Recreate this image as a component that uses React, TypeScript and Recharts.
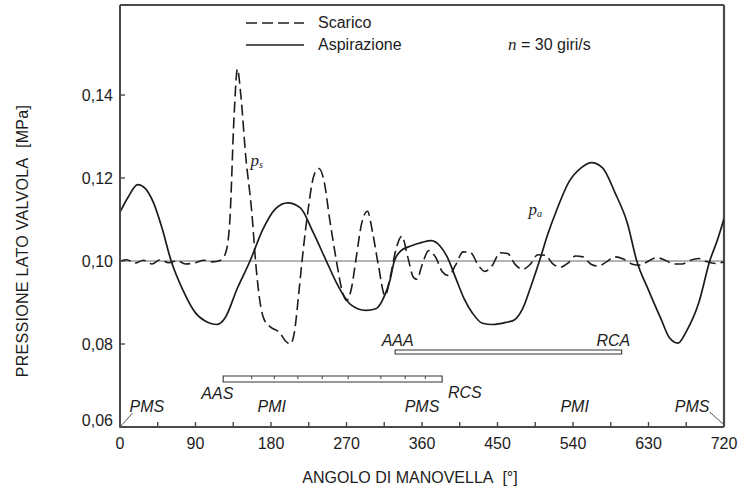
import React from 'react';
import {
  LineChart,
  Line,
  XAxis,
  YAxis,
  ReferenceLine,
  ReferenceArea,
  ReferenceDot,
  Legend,
} from 'recharts';

// ---------- data ----------
const angleTicks = [0, 45, 90, 135, 180, 225, 270, 315, 360, 405, 450, 495, 540, 585, 630, 675, 720];
const pressureTicks = [0.06, 0.08, 0.1, 0.12, 0.14];
const legendOrder = ['Scarico', 'Aspirazione'];

// Aspirazione (intake, solid)
const aspirazioneAngolo = [
  0, 10, 21, 30, 40, 50, 61, 75, 90, 105, 115, 125, 140, 155, 170, 185, 200, 215, 230, 246,
  260, 275, 293, 305, 315, 322, 327, 335, 345, 360, 371, 382, 390, 400, 410, 420, 432, 444,
  460, 470, 480, 490, 500, 510, 520, 535, 550, 562, 575, 590, 605, 616, 630, 645, 655, 665,
  675, 690, 703, 712, 720,
];
const aspirazionePressione = [
  0.1118, 0.1155, 0.1184, 0.1175, 0.114, 0.108, 0.1, 0.093, 0.0875, 0.0852, 0.0847, 0.0862,
  0.0935, 0.1, 0.1075, 0.1125, 0.114, 0.1128, 0.107, 0.1, 0.094, 0.0895, 0.0881, 0.0885,
  0.0915, 0.0955, 0.1, 0.1025, 0.1035, 0.1045, 0.1049, 0.1035, 0.101, 0.096, 0.091, 0.0875,
  0.085, 0.0847, 0.0852, 0.0858, 0.0885, 0.094, 0.1, 0.1065, 0.112, 0.119, 0.1225, 0.1237,
  0.1225, 0.1165, 0.109, 0.1, 0.093, 0.086, 0.0815, 0.0802, 0.083, 0.09, 0.1, 0.105, 0.1102,
];

// Scarico (exhaust, dashed)
const scaricoAngolo = [
  0, 8, 18, 28, 38, 48, 58, 68, 78, 90, 100, 110, 120, 126, 131, 136, 140, 144, 150, 157,
  162, 167, 172, 180, 190, 197, 203, 208, 213, 217, 224, 231, 237, 243, 250, 258, 264, 270,
  276, 281, 288, 295, 301, 308, 316, 322, 328, 336, 343, 350, 354, 360, 368, 376, 384, 392,
  400, 409, 418, 427, 435, 444, 453, 462, 471, 480, 489, 498, 507, 516, 525, 534, 543, 552,
  561, 570, 580, 590, 600, 610, 620, 630, 640, 650, 660, 670, 680, 690, 700, 710, 720,
];
const scaricoPressione = [
  0.1, 0.1003, 0.0995, 0.1002, 0.0993, 0.1003, 0.0996, 0.1001, 0.0993, 0.0996, 0.1002, 0.0998,
  0.1002, 0.102, 0.11, 0.135, 0.1463, 0.14, 0.125, 0.112, 0.099, 0.09, 0.0858, 0.084, 0.0828,
  0.0808, 0.08, 0.083, 0.092, 0.1, 0.112, 0.1205, 0.1223, 0.1195, 0.11, 0.1, 0.0935, 0.0905,
  0.0935, 0.1, 0.109, 0.112, 0.107, 0.099, 0.0916, 0.096, 0.102, 0.106, 0.101, 0.096, 0.0956,
  0.099, 0.1025, 0.101, 0.0975, 0.0965, 0.099, 0.1022, 0.102, 0.099, 0.0975, 0.099, 0.102,
  0.1018, 0.0992, 0.098, 0.0992, 0.1015, 0.1014, 0.0993, 0.0985, 0.0995, 0.1012, 0.101,
  0.0993, 0.0988, 0.0998, 0.101, 0.1005, 0.0993, 0.099, 0.1, 0.1008, 0.1002, 0.0993, 0.0993,
  0.1002, 0.1006, 0.0998, 0.0994, 0.0998,
];

// valve timing bars (angle spans)
const scaricoAperto = [123, 384]; // AAS -> RCS
const aspirazioneAperta = [328, 598]; // AAA -> RCA
const scaricoBarTacche = [157, 184, 212, 241, 272, 311, 340, 364];

// text annotations in data coordinates
const eventiTesti = [
  { text: 'PMS', a: 32, p: 0.06506 },
  { text: 'PMI', a: 181, p: 0.06506 },
  { text: 'PMS', a: 360, p: 0.06506 },
  { text: 'PMI', a: 542, p: 0.06506 },
  { text: 'PMS', a: 682, p: 0.06506 },
  { text: 'AAS', a: 116, p: 0.06819 },
  { text: 'RCS', a: 411, p: 0.06843 },
  { text: 'AAA', a: 331, p: 0.08075 },
  { text: 'RCA', a: 588, p: 0.08075 },
];
const curveTesti = [
  { sym: 'p', sub: 's', a: 163, p: 0.1236 },
  { sym: 'p', sub: 'a', a: 495, p: 0.1118 },
];

// ---------- build series ----------
const scaricoData = scaricoAngolo.map((a, i) => ({ angle: a, p: scaricoPressione[i] }));
const aspirazioneData = aspirazioneAngolo.map((a, i) => ({ angle: a, p: aspirazionePressione[i] }));

const FONT = '"Liberation Sans", Arial, Helvetica, sans-serif';
const SERIF = '"Liberation Serif", "Times New Roman", serif';
const INK = '#1c1c1c';
const FRAME = '#4a4a4a';
const Y_DOMAIN: [number, number] = [0.06, 0.1617];
const X_DOMAIN: [number, number] = [0, 720];

const fmt = (v: number) => v.toFixed(2).replace('.', ',');

const XTick = (props: any) => {
  const { x, y, payload } = props;
  const v = payload.value;
  return (
    <g>
      <line x1={x} x2={x} y1={y} y2={y - 5} stroke={FRAME} strokeWidth={1.4} />
      {v % 90 === 0 && (
        <text x={x} y={y + 22} textAnchor="middle" fontSize={16} fontFamily={FONT} fill={INK}>
          {v}
        </text>
      )}
    </g>
  );
};

const YTick = (props: any) => {
  const { x, y, payload } = props;
  const v = payload.value;
  const dy = v === Y_DOMAIN[0] ? -1 : 5.5;
  return (
    <g>
      <line x1={x - 1} x2={x + 5} y1={y} y2={y} stroke={FRAME} strokeWidth={1.4} />
      <text x={x - 7} y={y + dy} textAnchor="end" fontSize={16} fontFamily={FONT} fill={INK}>
        {fmt(v)}
      </text>
    </g>
  );
};

const LegendContent = (props: any) => {
  const payload = [...(props.payload || [])].sort(
    (a: any, b: any) => legendOrder.indexOf(a.value) - legendOrder.indexOf(b.value)
  );
  return (
    <div style={{ position: 'relative', fontFamily: FONT, fontSize: 16, color: INK }}>
      {payload.map((entry: any, i: number) => {
        const dash = entry.payload && entry.payload.strokeDasharray;
        return (
          <div key={i} style={{ display: 'flex', alignItems: 'center', height: 22 }}>
            <svg width={60} height={10} style={{ display: 'block' }}>
              <line x1={0} x2={58} y1={5} y2={5} stroke={INK} strokeWidth={1.6} strokeDasharray={dash} />
            </svg>
            <span style={{ marginLeft: 12, lineHeight: '22px' }}>{entry.value}</span>
          </div>
        );
      })}
      <div style={{ position: 'absolute', left: 262, top: 22, lineHeight: '22px', whiteSpace: 'nowrap' }}>
        <span style={{ fontFamily: SERIF, fontStyle: 'italic', fontSize: 17 }}>n</span> = 30 giri/s
      </div>
    </div>
  );
};

export default function App() {
  return (
    <div style={{ position: 'absolute', left: 0, top: 0, background: '#fff' }}>
      <LineChart width={739} height={488} margin={{ top: 5, right: 15, bottom: 31, left: 60 }}>
        <XAxis
          dataKey="angle"
          type="number"
          domain={X_DOMAIN}
          ticks={angleTicks}
          interval={0}
          tick={<XTick />}
          tickLine={false}
          tickSize={0}
          tickMargin={0}
          height={30}
          allowDataOverflow
          axisLine={{ stroke: FRAME, strokeWidth: 1.8 }}
          label={(p: any) => {
            const vb = p.viewBox || { x: 120, y: 427, width: 604 };
            return (
              <text
                x={vb.x + vb.width / 2 - 12}
                y={vb.y + 56}
                textAnchor="middle"
                fontSize={16}
                fontFamily={FONT}
                fill={INK}
              >
                {'ANGOLO DI MANOVELLA\u00a0\u00a0[°]'}
              </text>
            );
          }}
        />
        <YAxis
          type="number"
          domain={Y_DOMAIN}
          ticks={pressureTicks}
          interval={0}
          tick={<YTick />}
          tickLine={false}
          tickSize={0}
          tickMargin={0}
          width={60}
          allowDataOverflow
          axisLine={{ stroke: FRAME, strokeWidth: 2 }}
          label={(p: any) => {
            const vb = p.viewBox || { x: 60, y: 5, width: 60, height: 422 };
            const cx = vb.x - 38;
            const cy = vb.y + vb.height / 2 + 25;
            return (
              <text
                x={cx}
                y={cy}
                transform={`rotate(-90 ${cx} ${cy})`}
                textAnchor="middle"
                dominantBaseline="central"
                fontSize={16}
                fontFamily={FONT}
                letterSpacing={0.3}
                fill={INK}
              >
                {'PRESSIONE LATO VALVOLA\u00a0\u00a0[MPa]'}
              </text>
            );
          }}
        />

        {/* frame: top and right borders */}
        <ReferenceLine y={Y_DOMAIN[1]} stroke={FRAME} strokeWidth={2.2} />
        <ReferenceLine x={X_DOMAIN[1]} stroke={FRAME} strokeWidth={2.2} />

        <ReferenceLine y={0.1} stroke="#6a6a6a" strokeWidth={1} />

        <ReferenceArea
          x1={scaricoAperto[0]}
          x2={scaricoAperto[1]}
          y1={0.07084}
          y2={0.07229}
          fill="#fff"
          fillOpacity={1}
          stroke="#333"
          strokeWidth={1.1}
        />
        {scaricoBarTacche.map((a, i) => (
          <ReferenceLine
            key={'t' + i}
            segment={[
              { x: a, y: 0.07229 },
              { x: a, y: 0.07156 },
            ]}
            stroke="#444"
            strokeWidth={1}
          />
        ))}
        <ReferenceArea
          x1={aspirazioneAperta[0]}
          x2={aspirazioneAperta[1]}
          y1={0.07759}
          y2={0.07855}
          fill="#fff"
          fillOpacity={1}
          stroke="#333"
          strokeWidth={1.1}
        />

        <ReferenceLine
          segment={[
            { x: 0, y: 0.06 },
            { x: 15, y: 0.06337 },
          ]}
          stroke="#444"
          strokeWidth={0.9}
        />
        <ReferenceLine
          segment={[
            { x: 703, y: 0.06361 },
            { x: 719, y: 0.06072 },
          ]}
          stroke="#444"
          strokeWidth={0.9}
        />

        <Line
          data={scaricoData}
          dataKey="p"
          name="Scarico"
          type="monotone"
          stroke={INK}
          strokeWidth={1.6}
          strokeDasharray="11 5"
          dot={false}
          activeDot={false}
          isAnimationActive={false}
        />
        <Line
          data={aspirazioneData}
          dataKey="p"
          name="Aspirazione"
          type="monotone"
          stroke={INK}
          strokeWidth={1.7}
          dot={false}
          activeDot={false}
          isAnimationActive={false}
        />

        {eventiTesti.map((e, i) => (
          <ReferenceDot
            key={'e' + i}
            x={e.a}
            y={e.p}
            r={0}
            fill="none"
            stroke="none"
            shape={(s: any) => (
              <text
                x={s.cx}
                y={s.cy + 5.5}
                textAnchor="middle"
                fontSize={16}
                fontStyle="italic"
                fontFamily={FONT}
                fill={INK}
              >
                {e.text}
              </text>
            )}
          />
        ))}
        {curveTesti.map((c, i) => (
          <ReferenceDot
            key={'c' + i}
            x={c.a}
            y={c.p}
            r={0}
            fill="none"
            stroke="none"
            shape={(s: any) => (
              <text x={s.cx} y={s.cy + 3} textAnchor="middle" fontFamily={SERIF} fontStyle="italic" fill={INK}>
                <tspan fontSize={17}>{c.sym}</tspan>
                <tspan fontSize={10} dy={2}>
                  {c.sub}
                </tspan>
              </text>
            )}
          />
        ))}

        <Legend
          layout="vertical"
          align="center"
          verticalAlign="middle"
          content={<LegendContent />}
          wrapperStyle={{ position: 'absolute', left: 246, top: 12, width: 400, height: 46 }}
        />
      </LineChart>
    </div>
  );
}
